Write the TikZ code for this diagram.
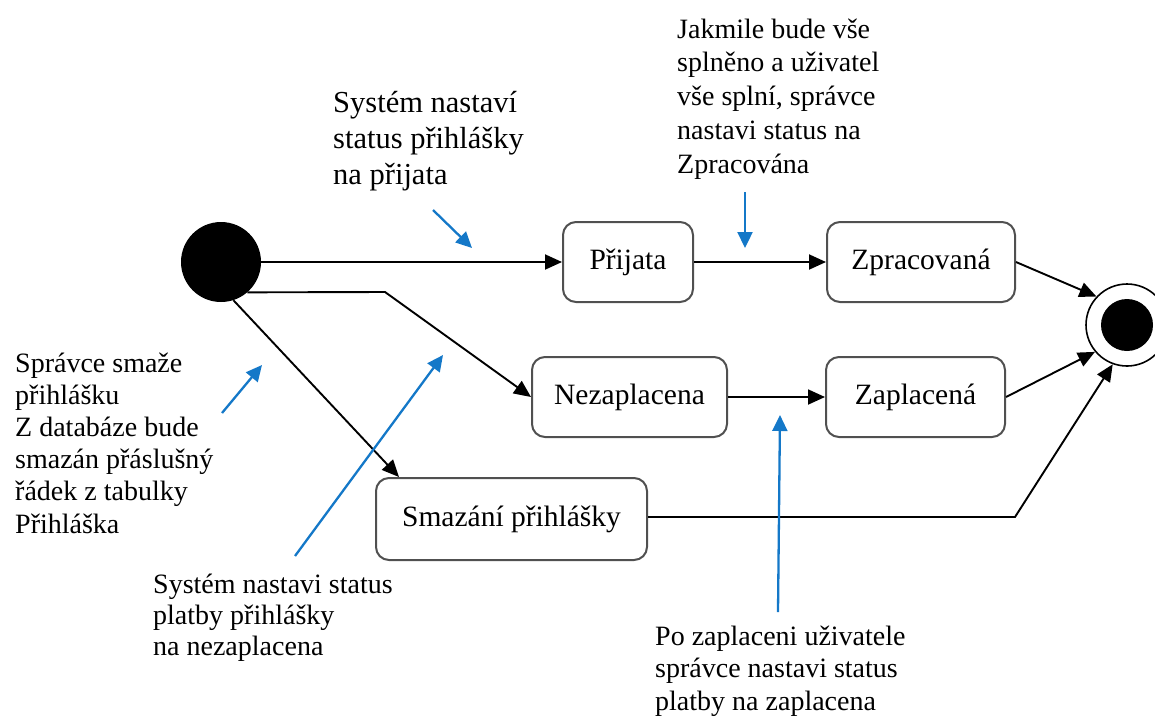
\documentclass[tikz,border=0pt]{standalone}
\usepackage{fontspec}
\setmainfont{Liberation Serif}
\usetikzlibrary{arrows.meta,calc}
\definecolor{noteblue}{RGB}{20,120,200}
\definecolor{boxgray}{RGB}{80,80,80}
\begin{document}
\begin{tikzpicture}[x=1pt,y=-1pt,
  state/.style={draw=boxgray, line width=2pt, rounded corners=13pt,
    minimum height=80pt, inner sep=0pt, font=\fontsize{29.5}{34}\selectfont},
  flow/.style={line width=1.9pt, -{Triangle[length=17pt,width=15pt]}},
  note/.style={anchor=base west, align=left, inner sep=0pt,
    font=\fontsize{28}{32.5}\selectfont},
  pointer/.style={draw=noteblue, line width=2.3pt,
    -{Triangle[length=16pt,width=15pt]}, noteblue}
]
\useasboundingbox (0,0) rectangle (1155,716);

% initial and final pseudo-states
\node[circle, fill=black, minimum size=80pt, inner sep=0pt] (start) at (221,262) {};
\node[circle, draw=black, line width=1.6pt, minimum size=82pt, inner sep=0pt] (end) at (1127,325) {};
\node[circle, fill=black, minimum size=52pt, inner sep=0pt] (endcore) at (1127,325) {};

% states
\node[state, minimum width=130pt] (prij) at (628,262) {Přijata};
\node[state, minimum width=188pt] (zpr) at (921,262) {Zpracovaná};
\node[state, minimum width=195pt] (nez) at (629.5,397) {Nezaplacena};
\node[state, minimum width=179pt] (zap) at (915.5,397) {Zaplacená};
\node[state, minimum width=271pt, minimum height=82pt] (sma) at (511.5,519) {Smazání přihlášky};

% transitions
\coordinate (bendA) at (385,292);
\coordinate (bendB) at (1015,517);
\draw[flow] (start) -- (prij);
\draw[flow] (prij) -- (zpr);
\draw[flow] (start.-49) -- (bendA) -- (nez.west);
\draw[flow] (start.-72) -- ($(sma.north west)+(24,0)$);
\draw[flow] (nez) -- (zap);
\draw[flow] (zpr.east) -- (end.137);
\draw[flow] (zap.east) -- (end.220);
\draw[flow] (sma.east |- bendB) -- (bendB) -- (end.250);

% annotations (placed by the baseline of their last line)
\node[note, font=\fontsize{30.5}{36}\selectfont] (n1) at (333,184)
  {Systém nastaví\\status přihlášky\\na přijata};
\node[note, font=\fontsize{28}{33.75}\selectfont] (n2) at (677,173)
  {Jakmile bude vše\\splněno a uživatel\\vše splní, správce\\nastavi status na\\Zpracována};
\node[note, font=\fontsize{28}{32.2}\selectfont] (n3) at (15,533)
  {Správce smaže\\přihlášku\\Z databáze bude\\smazán přáslušný\\řádek z tabulky\\Přihláška};
\node[note, font=\fontsize{28}{31}\selectfont] (n4) at (153,655)
  {Systém nastavi status\\platby přihlášky\\na nezaplacena};
\node[note] (n5) at (655,710)
  {Po zaplaceni uživatele\\správce nastavi status\\platby na zaplacena};

% pointers from the annotations
\coordinate (p1s) at (433,210); \coordinate (p1e) at (472,248);
\coordinate (p2s) at (745,192); \coordinate (p2e) at (745,248);
\coordinate (p3s) at (222,413); \coordinate (p3e) at (262,365);
\coordinate (p4s) at (295,556); \coordinate (p4e) at (443,355);
\coordinate (p5s) at (778,612); \coordinate (p5e) at (780,415);
\draw[pointer] (p1s) -- (p1e);
\draw[pointer] (p2s) -- (p2e);
\draw[pointer] (p3s) -- (p3e);
\draw[pointer] (p4s) -- (p4e);
\draw[pointer] (p5s) -- (p5e);
\end{tikzpicture}
\end{document}
